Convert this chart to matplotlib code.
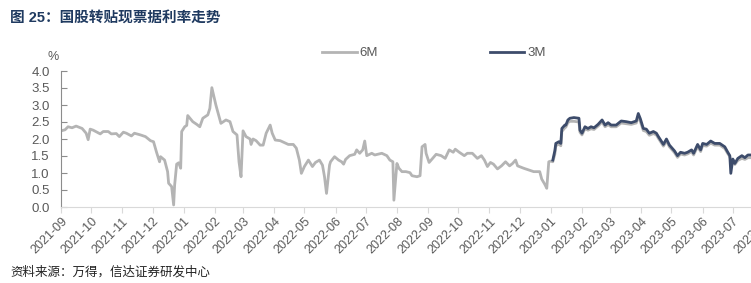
import numpy as np
import pandas as pd
import matplotlib
matplotlib.use("Agg")
import matplotlib.pyplot as plt
import matplotlib.dates as mdates

plt.rcParams['font.family'] = ['Liberation Sans', 'Noto Sans CJK SC', 'DejaVu Sans']

# 6M 利率
dates_6m = [
    "2021-09-01", "2021-09-05", "2021-09-08", "2021-09-12", "2021-09-16", "2021-09-22",
    "2021-09-26", "2021-09-28", "2021-09-30", "2021-10-03", "2021-10-10", "2021-10-13",
    "2021-10-18", "2021-10-21", "2021-10-26", "2021-10-29", "2021-11-02", "2021-11-05",
    "2021-11-10", "2021-11-13", "2021-11-19", "2021-11-24", "2021-11-29", "2021-12-02",
    "2021-12-05", "2021-12-08", "2021-12-09", "2021-12-13", "2021-12-16", "2021-12-17",
    "2021-12-20", "2021-12-22", "2021-12-23", "2021-12-25", "2021-12-27", "2021-12-29",
    "2021-12-30", "2022-01-02", "2022-01-04", "2022-01-05", "2022-01-07", "2022-01-10",
    "2022-01-14", "2022-01-17", "2022-01-20", "2022-01-25", "2022-01-27", "2022-01-29",
    "2022-02-02", "2022-02-07", "2022-02-12", "2022-02-16", "2022-02-19", "2022-02-23",
    "2022-02-25", "2022-02-27", "2022-03-01", "2022-03-04", "2022-03-08", "2022-03-09",
    "2022-03-11", "2022-03-14", "2022-03-18", "2022-03-21", "2022-03-24", "2022-03-28",
    "2022-03-30", "2022-04-02", "2022-04-07", "2022-04-12", "2022-04-15", "2022-04-20",
    "2022-04-23", "2022-04-26", "2022-04-28", "2022-05-01", "2022-05-05", "2022-05-09",
    "2022-05-12", "2022-05-16", "2022-05-19", "2022-05-21", "2022-05-23", "2022-05-26",
    "2022-05-27", "2022-05-31", "2022-06-04", "2022-06-07", "2022-06-09", "2022-06-11",
    "2022-06-15", "2022-06-20", "2022-06-22", "2022-06-25", "2022-06-28", "2022-06-30",
    "2022-07-02", "2022-07-07", "2022-07-10", "2022-07-17", "2022-07-22", "2022-07-25",
    "2022-07-28", "2022-07-29", "2022-08-01", "2022-08-03", "2022-08-06", "2022-08-10",
    "2022-08-14", "2022-08-16", "2022-08-21", "2022-08-24", "2022-08-26", "2022-08-29",
    "2022-08-30", "2022-09-02", "2022-09-06", "2022-09-09", "2022-09-14", "2022-09-18",
    "2022-09-22", "2022-09-26", "2022-09-28", "2022-10-02", "2022-10-07", "2022-10-10",
    "2022-10-15", "2022-10-20", "2022-10-24", "2022-10-27", "2022-10-30", "2022-11-02",
    "2022-11-05", "2022-11-09", "2022-11-13", "2022-11-17", "2022-11-21", "2022-11-24",
    "2022-11-27", "2022-11-29", "2022-12-05", "2022-12-10", "2022-12-15", "2022-12-21",
    "2022-12-23", "2022-12-26", "2022-12-28", "2022-12-30", "2023-01-01", "2023-01-03",
    "2023-01-05", "2023-01-06", "2023-01-09", "2023-01-11", "2023-01-12", "2023-01-15",
    "2023-01-16", "2023-01-18", "2023-01-20", "2023-01-24", "2023-01-29", "2023-01-30",
    "2023-02-01", "2023-02-04", "2023-02-07", "2023-02-10", "2023-02-13", "2023-02-17",
    "2023-02-21", "2023-02-24", "2023-02-27", "2023-03-02", "2023-03-07", "2023-03-12",
    "2023-03-17", "2023-03-22", "2023-03-27", "2023-03-29", "2023-03-31", "2023-04-03",
    "2023-04-06", "2023-04-09", "2023-04-13", "2023-04-16", "2023-04-18", "2023-04-23",
    "2023-04-26", "2023-04-29", "2023-05-04", "2023-05-07", "2023-05-10", "2023-05-14",
    "2023-05-17", "2023-05-21", "2023-05-23", "2023-05-27", "2023-05-30", "2023-06-01",
    "2023-06-05", "2023-06-09", "2023-06-13", "2023-06-18", "2023-06-23", "2023-06-26",
    "2023-06-28", "2023-06-29", "2023-07-01", "2023-07-03", "2023-07-06", "2023-07-10",
    "2023-07-13", "2023-07-16", "2023-07-19",
]
rate_6m = [
    2.24, 2.27, 2.36, 2.33, 2.38, 2.31,
    2.17, 1.98, 2.29, 2.26, 2.15, 2.22,
    2.22, 2.15, 2.16, 2.07, 2.20, 2.17,
    2.09, 2.17, 2.12, 2.07, 1.95, 1.92,
    1.61, 1.33, 1.48, 1.38, 1.04, 0.70,
    0.60, 0.06, 0.65, 1.26, 1.30, 1.14,
    2.22, 2.36, 2.40, 2.69, 2.62, 2.51,
    2.43, 2.36, 2.61, 2.71, 2.90, 3.51,
    3.00, 2.46, 2.56, 2.51, 2.22, 2.12,
    1.33, 0.89, 2.24, 2.07, 2.00, 1.84,
    2.00, 1.95, 1.82, 1.82, 2.17, 2.41,
    2.17, 1.97, 1.95, 1.88, 1.84, 1.84,
    1.73, 1.38, 0.99, 1.19, 1.38, 1.19,
    1.31, 1.38, 1.23, 0.89, 0.40, 1.23,
    1.33, 1.48, 1.38, 1.33, 1.26, 1.40,
    1.51, 1.55, 1.68, 1.58, 1.68, 1.94,
    1.51, 1.58, 1.53, 1.58, 1.51, 1.38,
    1.33, 0.20, 1.28, 1.14, 1.04, 1.04,
    1.01, 0.92, 0.89, 0.92, 1.77, 1.84,
    1.58, 1.31, 1.45, 1.55, 1.51, 1.43,
    1.68, 1.61, 1.70, 1.61, 1.51, 1.58,
    1.58, 1.43, 1.51, 1.38, 1.19, 1.31,
    1.26, 1.12, 1.21, 1.33, 1.21, 1.28,
    1.38, 1.21, 1.14, 1.09, 1.04, 1.04,
    0.82, 0.67, 0.55, 1.33, 1.35, 1.33,
    1.55, 1.80, 1.85, 1.80, 2.22, 2.33,
    2.35, 2.48, 2.52, 2.52, 2.50, 2.20,
    2.12, 2.30, 2.26, 2.30, 2.28, 2.38,
    2.50, 2.36, 2.42, 2.36, 2.36, 2.47,
    2.45, 2.43, 2.47, 2.66, 2.52, 2.25,
    2.22, 2.11, 2.16, 2.12, 2.02, 1.79,
    1.94, 1.77, 1.60, 1.46, 1.56, 1.53,
    1.56, 1.63, 1.53, 1.78, 1.63, 1.81,
    1.79, 1.88, 1.82, 1.82, 1.72, 1.57,
    1.48, 1.38, 1.35, 1.25, 1.37, 1.43,
    1.40, 1.45, 1.45,
]

# 3M 利率 (2023年起)
dates_3m = [
    "2023-01-03", "2023-01-05", "2023-01-06", "2023-01-09", "2023-01-11", "2023-01-12",
    "2023-01-15", "2023-01-16", "2023-01-18", "2023-01-20", "2023-01-24", "2023-01-29",
    "2023-01-30", "2023-02-01", "2023-02-04", "2023-02-07", "2023-02-10", "2023-02-13",
    "2023-02-17", "2023-02-21", "2023-02-24", "2023-02-27", "2023-03-02", "2023-03-07",
    "2023-03-12", "2023-03-17", "2023-03-22", "2023-03-27", "2023-03-29", "2023-03-31",
    "2023-04-03", "2023-04-06", "2023-04-09", "2023-04-13", "2023-04-16", "2023-04-18",
    "2023-04-23", "2023-04-26", "2023-04-29", "2023-05-04", "2023-05-07", "2023-05-10",
    "2023-05-14", "2023-05-17", "2023-05-21", "2023-05-23", "2023-05-27", "2023-05-30",
    "2023-06-01", "2023-06-05", "2023-06-09", "2023-06-13", "2023-06-18", "2023-06-23",
    "2023-06-26", "2023-06-28", "2023-06-29", "2023-07-01", "2023-07-03", "2023-07-06",
    "2023-07-10", "2023-07-13", "2023-07-16", "2023-07-19",
]
rate_3m = [
    1.38, 1.65, 1.87, 1.92, 1.87, 2.31,
    2.41, 2.41, 2.56, 2.61, 2.63, 2.61,
    2.26, 2.17, 2.36, 2.31, 2.36, 2.33,
    2.43, 2.56, 2.41, 2.48, 2.41, 2.41,
    2.53, 2.51, 2.48, 2.53, 2.75, 2.60,
    2.31, 2.29, 2.17, 2.22, 2.17, 2.07,
    1.84, 2.00, 1.82, 1.65, 1.51, 1.61,
    1.58, 1.61, 1.68, 1.58, 1.84, 1.68,
    1.87, 1.84, 1.94, 1.87, 1.87, 1.77,
    1.61, 1.51, 0.99, 1.41, 1.28, 1.43,
    1.51, 1.45, 1.53, 1.53,
]

x6 = pd.to_datetime(dates_6m)
x3 = pd.to_datetime(dates_3m)

fig = plt.figure(figsize=(7.51, 2.83), dpi=100)
# 坐标轴延伸到图片右边界之外 (原图右侧被裁切)
ax = fig.add_axes([61/751, 1-207/283, (764-61)/751, 136/283])

ax.plot(x6, rate_6m, color='#b4b4b4', lw=2.0, label='6M')
ax.plot(x3, rate_3m, color='#3d4c6b', lw=2.0, label='3M')

ax.set_ylim(0, 4.0)
ax.set_yticks(np.arange(0, 4.01, 0.5))
ax.yaxis.set_major_formatter(matplotlib.ticker.FormatStrFormatter('%.1f'))
ax.set_xlim(pd.Timestamp("2021-09-01"), pd.Timestamp("2023-08-01"))
ax.xaxis.set_major_locator(mdates.MonthLocator())
ax.xaxis.set_major_formatter(mdates.DateFormatter('%Y-%m'))

for s in ['top', 'right']:
    ax.spines[s].set_visible(False)
ax.spines['left'].set_color('#8c8c8c')
ax.spines['bottom'].set_color('#d9d9d9')
ax.tick_params(axis='y', direction='in', length=4, color='#8c8c8c',
               labelsize=9.5, labelcolor='#595959', pad=8)
ax.tick_params(axis='x', direction='out', length=4, color='#d9d9d9',
               labelsize=9, labelcolor='#595959', pad=2)
for lab in ax.get_xticklabels():
    lab.set_rotation(45)
    lab.set_ha('right')
    lab.set_rotation_mode('anchor')

fig.text(47/751, 1-57/283, '%', fontsize=9, color='#595959', ha='left', va='center')

fig.legend(loc='center', bbox_to_anchor=(434/751, 1-53/283), ncol=2, frameon=False,
           fontsize=9.5, handlelength=2.6, columnspacing=8.5, handletextpad=0.2,
           labelcolor='#595959')

fig.text(10/751, 1-18/283, '图 25：国股转贴现票据利率走势', fontsize=10.5,
         fontweight='bold', color='#1f3a60', ha='left', va='center')
fig.text(10/751, 1-272/283, '资料来源：万得，信达证券研发中心', fontsize=9,
         color='#222222', ha='left', va='center', family=['Noto Sans CJK SC'])

fig.savefig('out.png', dpi=100)
